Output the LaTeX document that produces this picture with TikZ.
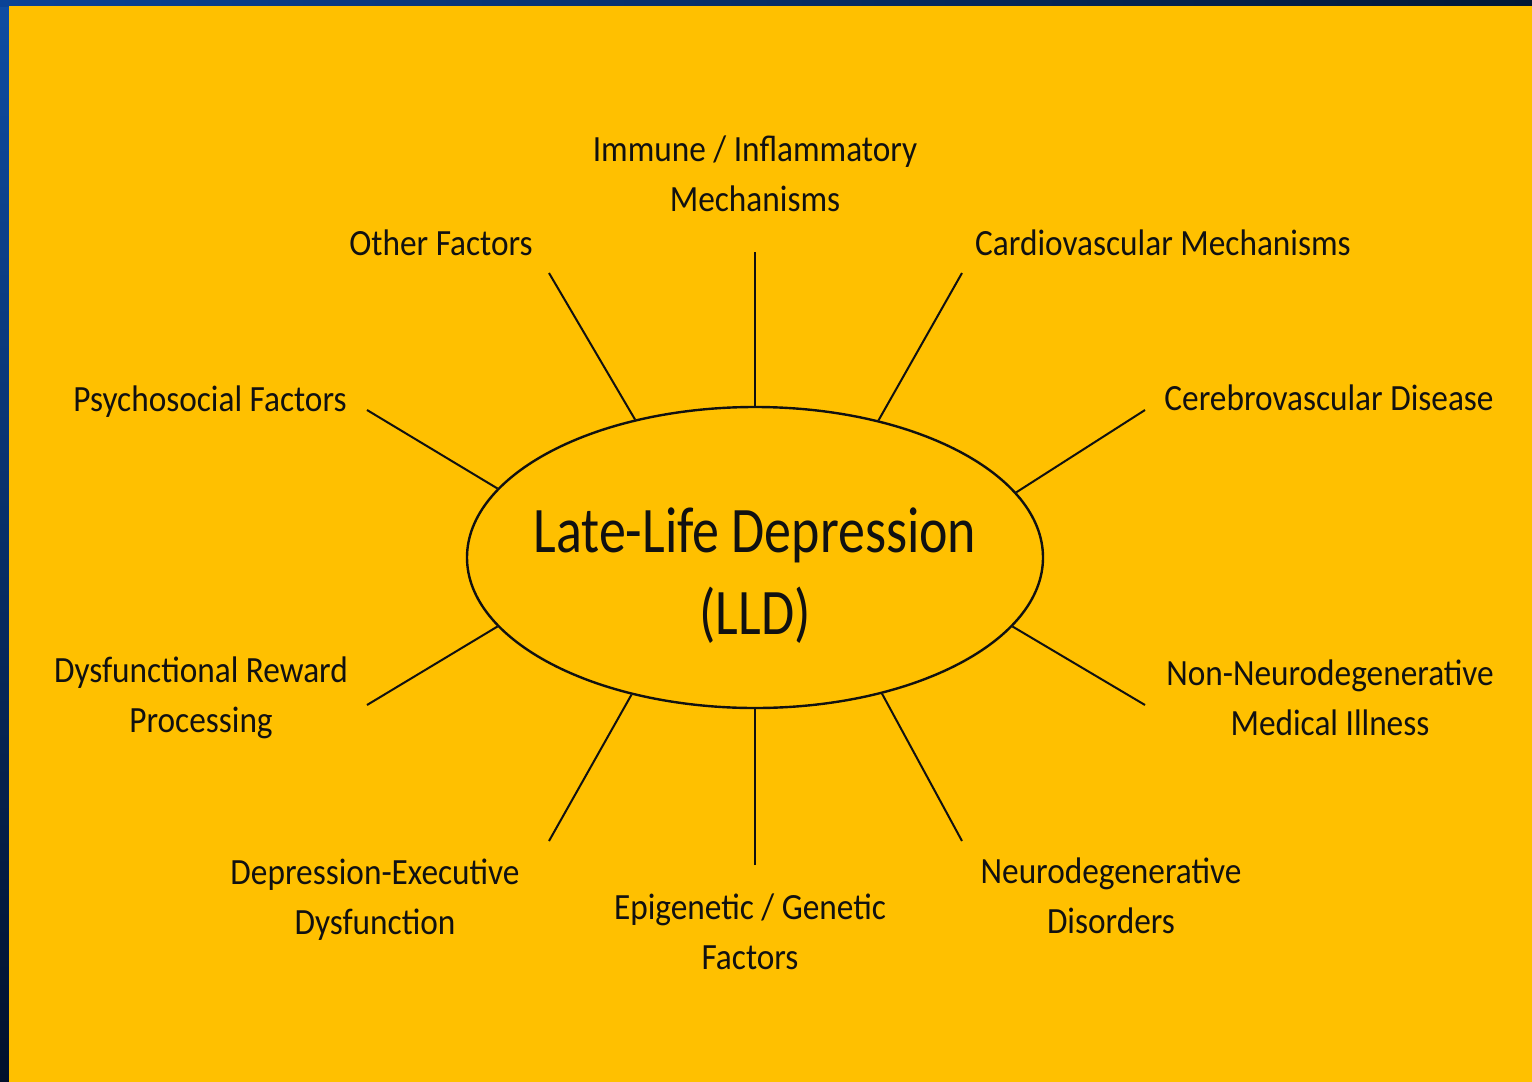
\documentclass[tikz,border=0pt]{standalone}
\usepackage{fontspec}
\setmainfont{Carlito}
\newfontfamily\labfont[FakeStretch=0.9]{Carlito}
\newfontfamily\cenfont[FakeStretch=0.83]{Carlito}
\usetikzlibrary{shapes.geometric}
\definecolor{bg}{HTML}{FFC000}
\definecolor{blueA}{HTML}{0F4DA3}
\definecolor{blueB}{HTML}{01102B}
\definecolor{blueC}{HTML}{0B4396}
\definecolor{blueD}{HTML}{031835}
\definecolor{ink}{HTML}{111111}
\tikzset{
  lab/.style={font=\labfont\fontsize{18.5}{25}\selectfont, text=ink, align=center, inner sep=0pt},
  spoke/.style={draw=ink, line width=1pt},
}
\begin{document}
\begin{tikzpicture}[x=0.5pt,y=-0.5pt]
\useasboundingbox (0,0) rectangle (1532,1082);
\shade[top color=blueA, bottom color=blueB] (0,0) rectangle (9,1082);
\shade[left color=blueC, right color=blueD] (0,0) rectangle (1532,6);
\fill[bg] (9,6) rectangle (1532,1082);

\node[draw=ink, ellipse, minimum width=288pt, minimum height=150.5pt, inner sep=0pt, line width=1.2pt] (c) at (755,557.5) {};
\node[font=\cenfont\fontsize{32.5}{41}\selectfont, text=ink, align=center, inner sep=0pt] (t) at (755,576) {Late-Life Depression\\(LLD)};

\node[lab] (imm) at (755,174) {Immune / Inflammatory\\Mechanisms};
\node[lab] (oth) at (441,243) {Other Factors};
\node[lab] (car) at (1163,243) {Cardiovascular Mechanisms};
\node[lab] (psy) at (210,402) {Psychosocial Factors};
\node[lab] (cer) at (1329,398) {Cerebrovascular Disease};
\node[lab] (dys) at (201,698) {Dysfunctional Reward\\Processing};
\node[lab] (non) at (1330,698) {Non-Neurodegenerative\\Medical Illness};
\node[lab] (dep) at (375,900) {Depression-Executive\\Dysfunction};
\node[lab] (epi) at (750,932) {Epigenetic / Genetic\\Factors};
\node[lab] (neu) at (1111,896) {Neurodegenerative\\Disorders};

\coordinate (eImm) at (755,252);
\coordinate (eOth) at (549,273);
\coordinate (eCar) at (962,273);
\coordinate (ePsy) at (367,410);
\coordinate (eCer) at (1145,410);
\coordinate (eDys) at (367,705);
\coordinate (eNon) at (1145,705);
\coordinate (eDep) at (549,841);
\coordinate (eNeu) at (962,841);
\coordinate (eEpi) at (755,865);

\draw[spoke] (eImm) -- (c.90);
\draw[spoke] (eOth) -- (c.131.7);
\draw[spoke] (eCar) -- (c.48.1);
\draw[spoke] (ePsy) -- (c.165.2);
\draw[spoke] (eCer) -- (c.14.7);
\draw[spoke] (eDys) -- (c.195.2);
\draw[spoke] (eNon) -- (c.-15.1);
\draw[spoke] (eDep) -- (c.228.1);
\draw[spoke] (eNeu) -- (c.-47.9);
\draw[spoke] (eEpi) -- (c.-90);
\end{tikzpicture}
\end{document}
